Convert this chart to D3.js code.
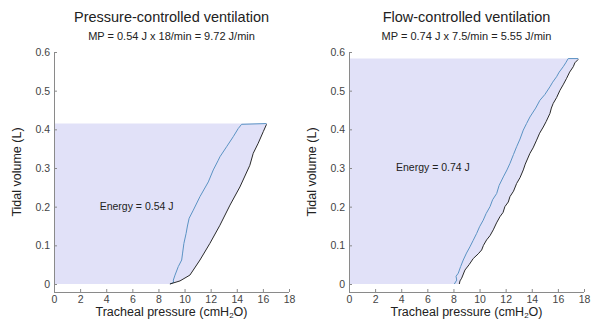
<!DOCTYPE html>
<html><head><meta charset="utf-8">
<script src="https://cdn.jsdelivr.net/npm/d3@7"></script>
<style>body{margin:0;background:#fff}svg{display:block}text{font-family:"Liberation Sans",Arial,sans-serif}</style>
</head><body>
<svg id="c" width="592" height="321"></svg>
<script>
// Data (pressure cmH2O, volume L)
const xTicks = [0,2,4,6,8,10,12,14,16,18];
const yTicks = [0,0.1,0.2,0.3,0.4,0.5,0.6];

const pcInspP = [8.88,9.65,10.41,11.18,11.94,12.71,13.48,14.24,15.0,15.26,15.64,16.03,16.28];
const pcInspV = [0,0.008,0.023,0.062,0.105,0.152,0.204,0.251,0.307,0.338,0.364,0.394,0.413];
const pcExpP = [16.28,14.37,14.11,13.73,13.22,12.71,12.58,12.2,11.82,11.18,10.67,10.35,10.22,10.12,9.95,9.85,9.78,9.52,9.27,9.14,9.16,8.88];
const pcExpV = [0.415,0.413,0.402,0.381,0.355,0.329,0.320,0.295,0.264,0.226,0.191,0.17,0.15,0.131,0.105,0.08,0.062,0.045,0.023,0.01,0.004,0];

const fcInspP = [8.45,8.5,8.63,8.88,9.2,9.52,9.9,10.16,10.3,10.54,10.8,11.05,11.3,11.56,11.8,11.94,12.2,12.33,12.6,12.84,13.1,13.35,13.5,13.86,14.1,14.37,14.6,14.88,15.1,15.39,15.5,15.64,15.9,16.16,16.4,16.67,16.9,17.18,17.3,17.56];
const fcInspV = [0,0.008,0.015,0.036,0.05,0.066,0.078,0.088,0.1,0.114,0.125,0.14,0.158,0.174,0.185,0.2,0.212,0.226,0.24,0.26,0.275,0.295,0.31,0.338,0.352,0.372,0.39,0.406,0.42,0.441,0.455,0.467,0.482,0.501,0.515,0.532,0.548,0.562,0.572,0.581];
const fcExpP = [17.56,16.79,16.6,16.41,16.1,15.9,15.6,15.39,15.0,14.62,14.3,13.86,13.6,13.35,13.1,12.84,12.6,12.33,12.1,11.82,11.5,11.31,11.0,10.8,10.5,10.28,10.0,9.78,9.5,9.26,9.0,8.75,8.55,8.37,8.2,8.25,8.07];
const fcExpV = [0.583,0.583,0.572,0.562,0.548,0.536,0.522,0.51,0.49,0.475,0.455,0.432,0.415,0.398,0.375,0.355,0.335,0.312,0.295,0.277,0.255,0.234,0.218,0.2,0.182,0.165,0.148,0.131,0.112,0.096,0.08,0.062,0.045,0.028,0.02,0.01,0];

const panels = [
  {title:"Pressure-controlled ventilation", sub:"MP = 0.54 J x 18/min = 9.72 J/min", energy:"Energy = 0.54 J", eP:3.5, eV:0.2, top:0.415,
   inP:pcInspP, inV:pcInspV, exP:pcExpP, exV:pcExpV, x0:54},
  {title:"Flow-controlled ventilation", sub:"MP = 0.74 J x 7.5/min = 5.55 J/min", energy:"Energy = 0.74 J", eP:3.6, eV:0.3, top:0.583,
   inP:fcInspP, inV:fcInspV, exP:fcExpP, exV:fcExpV, x0:349}
];

const svg = d3.select("#c");
const axisCol = "#8a8a8a", labCol = "#444";

panels.forEach(p => {
  const x = d3.scaleLinear().domain([0,18]).range([p.x0, p.x0+235]);
  const y = d3.scaleLinear().domain([0,0.6]).range([284, 52]);
  const g = svg.append("g");
  const inPts = p.inP.map((v,i)=>[v,p.inV[i]]);
  const exPts = p.exP.map((v,i)=>[v,p.exV[i]]);
  const poly = [[0,0]].concat(inPts).concat([[p.inP[p.inP.length-1], p.top],[0,p.top]]);
  g.append("path").attr("d", d3.line().x(d=>x(d[0])+ (d[0]===0?1:0)).y(d=>y(d[1]))(poly)+"Z")
    .attr("fill","#e1e1f8").attr("stroke","none");
  const xa = g.append("g").attr("transform","translate(0,292)")
    .call(d3.axisBottom(x).tickValues(xTicks).tickSize(-3).tickPadding(3.5).tickFormat(d3.format("d")));
  const ya = g.append("g").attr("transform",`translate(${p.x0},0)`)
    .call(d3.axisLeft(y).tickValues(yTicks).tickSize(-3).tickPadding(4).tickFormat(d=>d===0?"0":d3.format(".1f")(d)));
  [xa,ya].forEach(a=>{
    a.select(".domain").remove();
    a.selectAll(".tick line").attr("stroke",axisCol);
    a.selectAll(".tick text").attr("fill",labCol).attr("font-size","10.5px").attr("font-family","Liberation Sans, Arial, sans-serif");
  });
  g.append("line").attr("x1",p.x0).attr("x2",p.x0+235).attr("y1",292.5).attr("y2",292.5).attr("stroke",axisCol);
  g.append("line").attr("x1",p.x0+0.5).attr("x2",p.x0+0.5).attr("y1",52).attr("y2",292.5).attr("stroke",axisCol);
  const ln = d3.line().x(d=>x(d[0])).y(d=>y(d[1]));
  g.append("path").attr("d",ln(exPts)).attr("fill","none").attr("stroke","#5b93c4").attr("stroke-width",1);
  g.append("path").attr("d",ln(inPts)).attr("fill","none").attr("stroke","#2a2a2a").attr("stroke-width",1);
  const cx = p.x0 + 117.5;
  g.append("text").attr("x",cx).attr("y",22).attr("text-anchor","middle").attr("font-size","14.5px").attr("fill","#222").text(p.title);
  g.append("text").attr("x",cx).attr("y",40).attr("text-anchor","middle").attr("font-size","11px").attr("fill","#222").text(p.sub);
  g.append("text").attr("x",x(p.eP)).attr("y",y(p.eV)+3).attr("font-size","10.5px").attr("fill","#222").text(p.energy);
  const xl = g.append("text").attr("x",cx).attr("y",316).attr("text-anchor","middle").attr("font-size","12.5px").attr("fill","#222");
  xl.append("tspan").text("Tracheal pressure (cmH");
  xl.append("tspan").attr("font-size","8px").attr("dy",2).text("2");
  xl.append("tspan").attr("dy",-2).text("O)");
  g.append("text").attr("transform",`translate(${p.x0-33},172) rotate(-90)`).attr("text-anchor","middle").attr("font-size","12.5px").attr("fill","#222").text("Tidal volume (L)");
});
</script>
</body></html>
